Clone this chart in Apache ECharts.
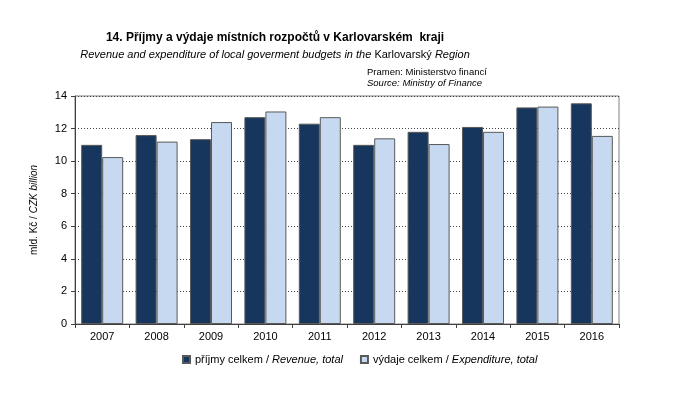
<!DOCTYPE html>
<html>
<head>
<meta charset="utf-8">
<script src="https://cdn.jsdelivr.net/npm/echarts@6/dist/echarts.min.js"></script>
<style>
  html, body { margin: 0; padding: 0; background: #fff; }
  #chart { width: 682px; height: 396px; }
</style>
</head>
<body>
<div id="chart"></div>
<script>
const years = ['2007', '2008', '2009', '2010', '2011', '2012', '2013', '2014', '2015', '2016'];
const revenue = [11.0, 11.6, 11.35, 12.7, 12.3, 11.0, 11.8, 12.1, 13.3, 13.55];
const expenditure = [10.25, 11.2, 12.4, 13.05, 12.7, 11.4, 11.05, 11.8, 13.35, 11.55];
const yTicks = [0, 2, 4, 6, 8, 10, 12, 14];

const chart = echarts.init(document.getElementById('chart'));
const font = "'Liberation Sans', Arial, sans-serif";

const option = {
    animation: false,
    textStyle: { fontFamily: font, color: '#000' },
    title: [
        {
            text: '14. Příjmy a výdaje místních rozpočtů v Karlovarském  kraji',
            left: 275, top: 32, textAlign: 'center', padding: 0,
            textStyle: { fontFamily: font, fontSize: 12, fontWeight: 'bold', color: '#000' }
        },
        {
            text: '{i|Revenue and expenditure of local goverment budgets in the }{n|Karlovarský}{i| Region}',
            left: 275, top: 49, textAlign: 'center', padding: 0,
            textStyle: {
                fontWeight: 'normal',
                rich: {
                    i: { fontFamily: font, fontSize: 11, fontStyle: 'italic', fontWeight: 'normal', color: '#000' },
                    n: { fontFamily: font, fontSize: 11, fontWeight: 'normal', color: '#000' }
                }
            }
        },
        {
            text: 'Pramen: Ministerstvo financí',
            left: 367, top: 67, padding: 0,
            textStyle: { fontFamily: font, fontSize: 9.5, fontWeight: 'normal', color: '#000' }
        },
        {
            text: 'Source: Ministry of Finance',
            left: 367, top: 78, padding: 0,
            textStyle: { fontFamily: font, fontSize: 9.5, fontStyle: 'italic', fontWeight: 'normal', color: '#000' }
        }
    ],
    legend: {
        bottom: 26,
        left: 177,
        itemWidth: 7,
        itemHeight: 7,
        itemGap: 17,
        icon: 'rect',
        textStyle: {
            fontSize: 11,
            rich: {
                n: { fontFamily: font, fontSize: 11, color: '#000' },
                i: { fontFamily: font, fontSize: 11, fontStyle: 'italic', color: '#000' }
            }
        },
        formatter: function (name) {
            const parts = name.split(' / ');
            return '{n|' + parts[0] + ' / }{i|' + parts[1] + '}';
        },
        data: ['příjmy celkem / Revenue, total', 'výdaje celkem / Expenditure, total']
    },
    grid: {
        left: 75, right: 63, top: 96, bottom: 72,
        show: true,
        borderColor: '#808080',
        borderWidth: 1,
        backgroundColor: 'transparent'
    },
    xAxis: {
        type: 'category',
        data: years,
        axisLine: { lineStyle: { color: '#404040', width: 1 } },
        axisTick: { show: true, length: 4, lineStyle: { color: '#404040' } },
        axisLabel: { fontSize: 11, color: '#000', margin: 7 }
    },
    yAxis: {
        type: 'value',
        min: 0,
        max: 14,
        interval: 2,
        name: '{n|mld. Kč / }{i|CZK billion}',
        nameLocation: 'middle',
        nameGap: 36,
        nameTextStyle: {
            rich: {
                n: { fontFamily: font, fontSize: 10, color: '#000' },
                i: { fontFamily: font, fontSize: 10, fontStyle: 'italic', color: '#000' }
            }
        },
        axisLine: { show: true, lineStyle: { color: '#404040', width: 1 } },
        axisTick: { show: true, length: 4, lineStyle: { color: '#404040' } },
        axisLabel: {
            fontSize: 11, color: '#000', margin: 8,
            formatter: function (v) { return yTicks.indexOf(v) >= 0 ? String(v) : ''; }
        },
        splitLine: { lineStyle: { type: [1, 2], color: '#404040', width: 1 } }
    },
    series: [
        {
            name: 'příjmy celkem / Revenue, total',
            type: 'bar',
            barWidth: 21,
            barGap: '0%',
            itemStyle: { color: '#17365d', borderColor: '#595959', borderWidth: 1 },
            data: revenue
        },
        {
            name: 'výdaje celkem / Expenditure, total',
            type: 'bar',
            barWidth: 21,
            itemStyle: { color: '#c6d9f1', borderColor: '#595959', borderWidth: 1 },
            data: expenditure
        }
    ]
};

chart.setOption(option);

window.addEventListener('resize', function () {
    chart.resize();
});
</script>
</body>
</html>
